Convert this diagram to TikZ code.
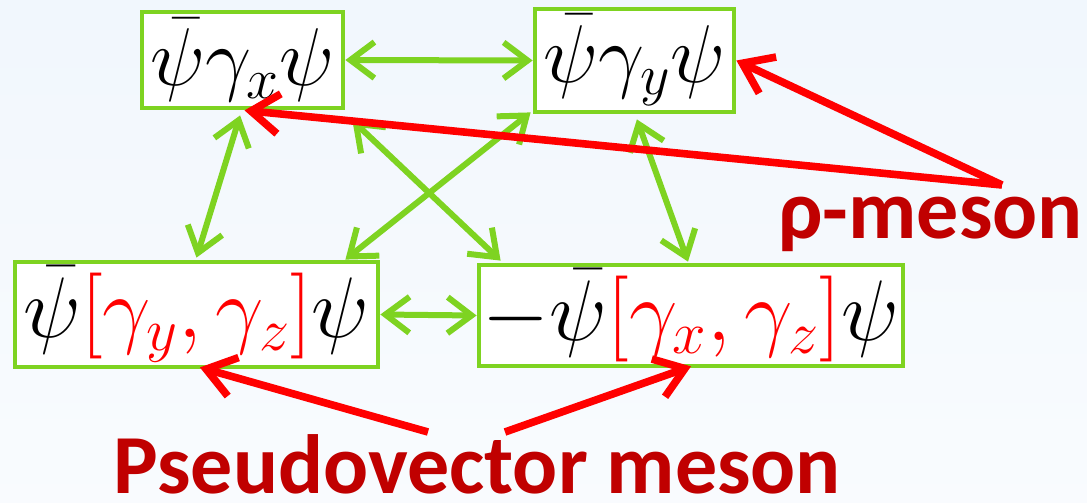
\RequirePackage{fix-cm}
\documentclass[tikz,border=0pt]{standalone}
\usepackage{fontspec}
\usepackage{amsmath}
\usepackage{tikz}
\usetikzlibrary{arrows.meta}
\newfontfamily\labelfont{Carlito}
\definecolor{boxgreen}{RGB}{126,211,33}
\definecolor{labelred}{RGB}{192,0,0}
\definecolor{bgblue}{RGB}{224,237,250}
\newcommand{\bigmath}[1]{\fontsize{41}{48}\selectfont$#1$}
\newcommand{\widemath}[1]{\fontsize{43}{48}\selectfont$#1$}

\begin{document}
\begin{tikzpicture}[x=0.5pt,y=-0.5pt,
    mbox/.style={draw=boxgreen,line width=2.4pt,fill=white,inner sep=0pt},
    garrow/.style={draw=boxgreen,line width=3pt,{Straight Barb[length=12pt,width=18pt]}-{Straight Barb[length=12pt,width=18pt]}},
    rarrow/.style={draw=red,line width=3.8pt,-{Straight Barb[length=14pt,width=20pt]}},
    mlabel/.style={text=labelred,inner sep=0pt,anchor=base west,font=\labelfont\bfseries\fontsize{42}{48}\selectfont}]
    % background
    \shade[top color=bgblue!45,middle color=white,bottom color=bgblue!20] (0,0) rectangle (1087,503);
    % the four bilinears
    \node[mbox,minimum width=100.5pt,minimum height=48pt] (gx) at (242.5,60) {\bigmath{\bar\psi\gamma_x\psi}};
    \node[mbox,minimum width=99.5pt,minimum height=51.5pt] (gy) at (634.5,60.5) {\bigmath{\bar\psi\gamma_y\psi}};
    \node[mbox,minimum width=181.5pt,minimum height=52.5pt] (gyz) at (196.5,314.5) {\widemath{\bar\psi\color{red}[\gamma_y,\gamma_z]\color{black}\psi}};
    \node[mbox,minimum width=212pt,minimum height=50.5pt] (gxz) at (691,315.5) {\widemath{-\bar\psi\color{red}[\gamma_x,\gamma_z]\color{black}\psi}};
    % green connectors
    \draw[garrow] (gx.east) -- (gy.west);
    \draw[garrow] ([xshift=-1.2pt,yshift=-2.5pt]gx.south) -- ([yshift=1pt]gyz.north);
    \draw[garrow] ([xshift=3.5pt,yshift=-5pt]gx.south east) -- ([xshift=12pt,yshift=1pt]gxz.north west);
    \draw[garrow] ([xshift=-1pt,yshift=1pt]gy.south west) -- ([xshift=-17.5pt]gyz.north east);
    \draw[garrow] ([xshift=1.2pt,yshift=-2.5pt]gy.south) -- ([xshift=-1.5pt,yshift=0.5pt]gxz.north);
    \draw[garrow] (gyz.east) -- (gxz.west);
    % labels
    \node[mlabel] (rho) at (778,238) {ρ-meson};
    \node[mlabel] (pv) at (113,493) {Pseudovector meson};
    \coordinate (rhotip) at (1002,185);
    \coordinate (pvl) at (428,432);
    \coordinate (pvr) at (505,432);
    % red pointers
    \draw[rarrow] (rhotip) -- ([xshift=1pt]gx.south);
    \draw[rarrow] (rhotip) -- (gy.east);
    \draw[rarrow] (pvl) -- ([xshift=1.7pt,yshift=1pt]gyz.south);
    \draw[rarrow] (pvr) -- ([yshift=1pt]gxz.south);
\end{tikzpicture}
\end{document}
